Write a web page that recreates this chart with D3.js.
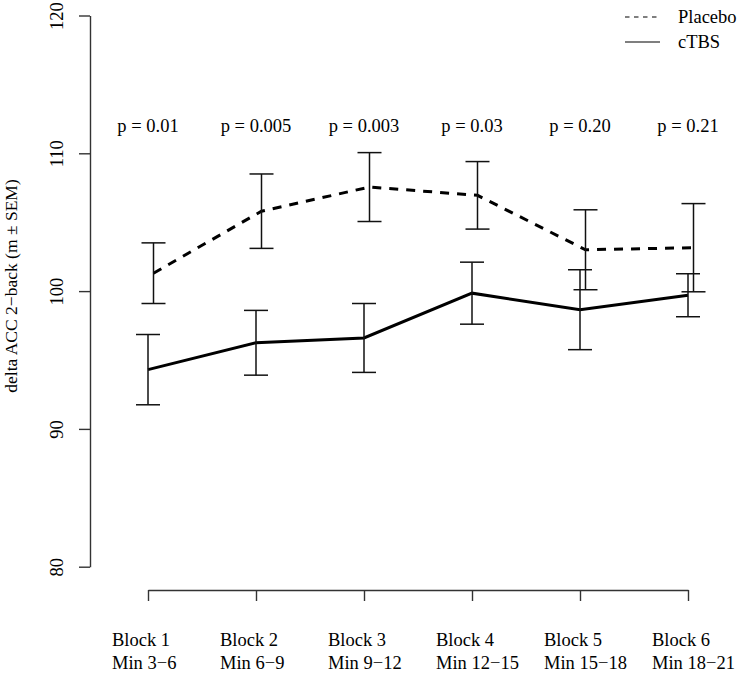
<!DOCTYPE html>
<html lang="en">
  <head>
    <meta charset="utf-8">
    <title>delta ACC 2-back</title>
    <style>
      body { margin: 0; background: #fff; }
      svg { display: block; font-family: "Liberation Serif", "DejaVu Serif", serif; }
    </style>
    <script src="https://cdn.jsdelivr.net/npm/d3@7"></script>
  </head>
  <body>
    <script>
      // data
      const blocks = ['Block 1', 'Block 2', 'Block 3', 'Block 4', 'Block 5', 'Block 6'];
      const minutes = ['Min 3\u22126', 'Min 6\u22129', 'Min 9\u221212', 'Min 12\u221215', 'Min 15\u221218', 'Min 18\u221221'];
      const pValues = ['p = 0.01', 'p = 0.005', 'p = 0.003', 'p = 0.03', 'p = 0.20', 'p = 0.21'];

      const placeboMean = [101.3, 105.8, 107.55, 106.95, 103.0, 103.15];
      const placeboSem  = [2.2, 2.7, 2.5, 2.45, 2.9, 3.2];
      const ctbsMean    = [94.3, 96.25, 96.6, 99.85, 98.65, 99.7];
      const ctbsSem     = [2.55, 2.35, 2.5, 2.25, 2.9, 1.56];

      const yTicks = [80, 90, 100, 110, 120];

      const width = 742, height = 673;
      const serif = '"Liberation Serif", "DejaVu Serif", serif';
      const axisColor = '#333';

      const svg = d3.select('body').append('svg')
        .attr('width', width)
        .attr('height', height);

      const x = d3.scaleLinear().domain([0, 5]).range([148, 688]);
      const y = d3.scaleLinear().domain([80, 120]).range([566.7, 15.5]);

      const placeboShift = 5.5; // placebo drawn a bit to the right

      // y axis
      const yAxis = svg.append('g')
        .attr('transform', 'translate(90,0)')
        .call(d3.axisLeft(y).tickValues(yTicks).tickSize(11).tickSizeOuter(0));
      yAxis.attr('font-family', serif);
      yAxis.select('.domain').attr('stroke', axisColor).attr('stroke-width', 1.4);
      yAxis.selectAll('.tick line').attr('stroke', axisColor).attr('stroke-width', 1.4);
      yAxis.selectAll('.tick text')
        .attr('font-size', 18.5)
        .attr('fill', '#000')
        .attr('x', 0).attr('y', 0).attr('dy', '0.35em')
        .attr('text-anchor', 'middle')
        .attr('transform', 'translate(-33,0) rotate(-90)');

      // x axis
      const xAxis = svg.append('g')
        .attr('transform', 'translate(0,590)')
        .call(d3.axisBottom(x).tickValues(d3.range(6)).tickSize(11).tickSizeOuter(0).tickFormat(''));
      xAxis.select('.domain').attr('stroke', axisColor).attr('stroke-width', 1.4);
      xAxis.selectAll('.tick line').attr('stroke', axisColor).attr('stroke-width', 1.4);

      const labels = svg.append('g').attr('font-size', 18.5);
      blocks.forEach((b, i) => {
        const t = labels.append('text')
          .attr('x', x(i) - 36)
          .attr('y', 646);
        t.append('tspan').attr('x', x(i) - 36).text(b);
        t.append('tspan').attr('x', x(i) - 36).attr('dy', 23).text(minutes[i]);
      });

      // y axis title
      svg.append('text')
        .attr('transform', 'translate(17,286) rotate(-90)')
        .attr('text-anchor', 'middle')
        .attr('font-size', 17.5)
        .text('delta ACC 2\u2212back (m \u00b1 SEM)');

      // p values
      svg.append('g').attr('font-size', 18.5).attr('text-anchor', 'middle')
        .selectAll('text').data(pValues).join('text')
        .attr('x', (d, i) => x(i))
        .attr('y', 132)
        .text(d => d);

      function drawSeries(means, sems, shift, dash) {
        const g = svg.append('g');
        const line = d3.line()
          .x((d, i) => x(i) + shift)
          .y(d => y(d));

        g.append('path')
          .datum(means)
          .attr('d', line)
          .attr('fill', 'none')
          .attr('stroke', '#000')
          .attr('stroke-width', 3)
          .attr('stroke-dasharray', dash);

        const bars = g.selectAll('.err').data(means).join('g')
          .attr('stroke', '#111')
          .attr('stroke-width', 1.5);
        bars.append('line')
          .attr('x1', (d, i) => x(i) + shift).attr('x2', (d, i) => x(i) + shift)
          .attr('y1', (d, i) => y(d + sems[i])).attr('y2', (d, i) => y(d - sems[i]));
        bars.append('line')
          .attr('x1', (d, i) => x(i) + shift - 12).attr('x2', (d, i) => x(i) + shift + 12)
          .attr('y1', (d, i) => y(d + sems[i])).attr('y2', (d, i) => y(d + sems[i]));
        bars.append('line')
          .attr('x1', (d, i) => x(i) + shift - 12).attr('x2', (d, i) => x(i) + shift + 12)
          .attr('y1', (d, i) => y(d - sems[i])).attr('y2', (d, i) => y(d - sems[i]));
      }

      drawSeries(placeboMean, placeboSem, placeboShift, '9,8');
      drawSeries(ctbsMean, ctbsSem, 0, null);

      // legend
      const legend = svg.append('g').attr('font-size', 18.5);
      legend.append('line')
        .attr('x1', 625).attr('x2', 660).attr('y1', 17).attr('y2', 17)
        .attr('stroke', '#000').attr('stroke-width', 1.2).attr('stroke-dasharray', '4.5,4.5');
      legend.append('line')
        .attr('x1', 625).attr('x2', 660).attr('y1', 42).attr('y2', 42)
        .attr('stroke', '#000').attr('stroke-width', 1.2);
      legend.append('text').attr('x', 678).attr('y', 23).text('Placebo');
      legend.append('text').attr('x', 678).attr('y', 48).text('cTBS');
    </script>
  </body>
</html>
